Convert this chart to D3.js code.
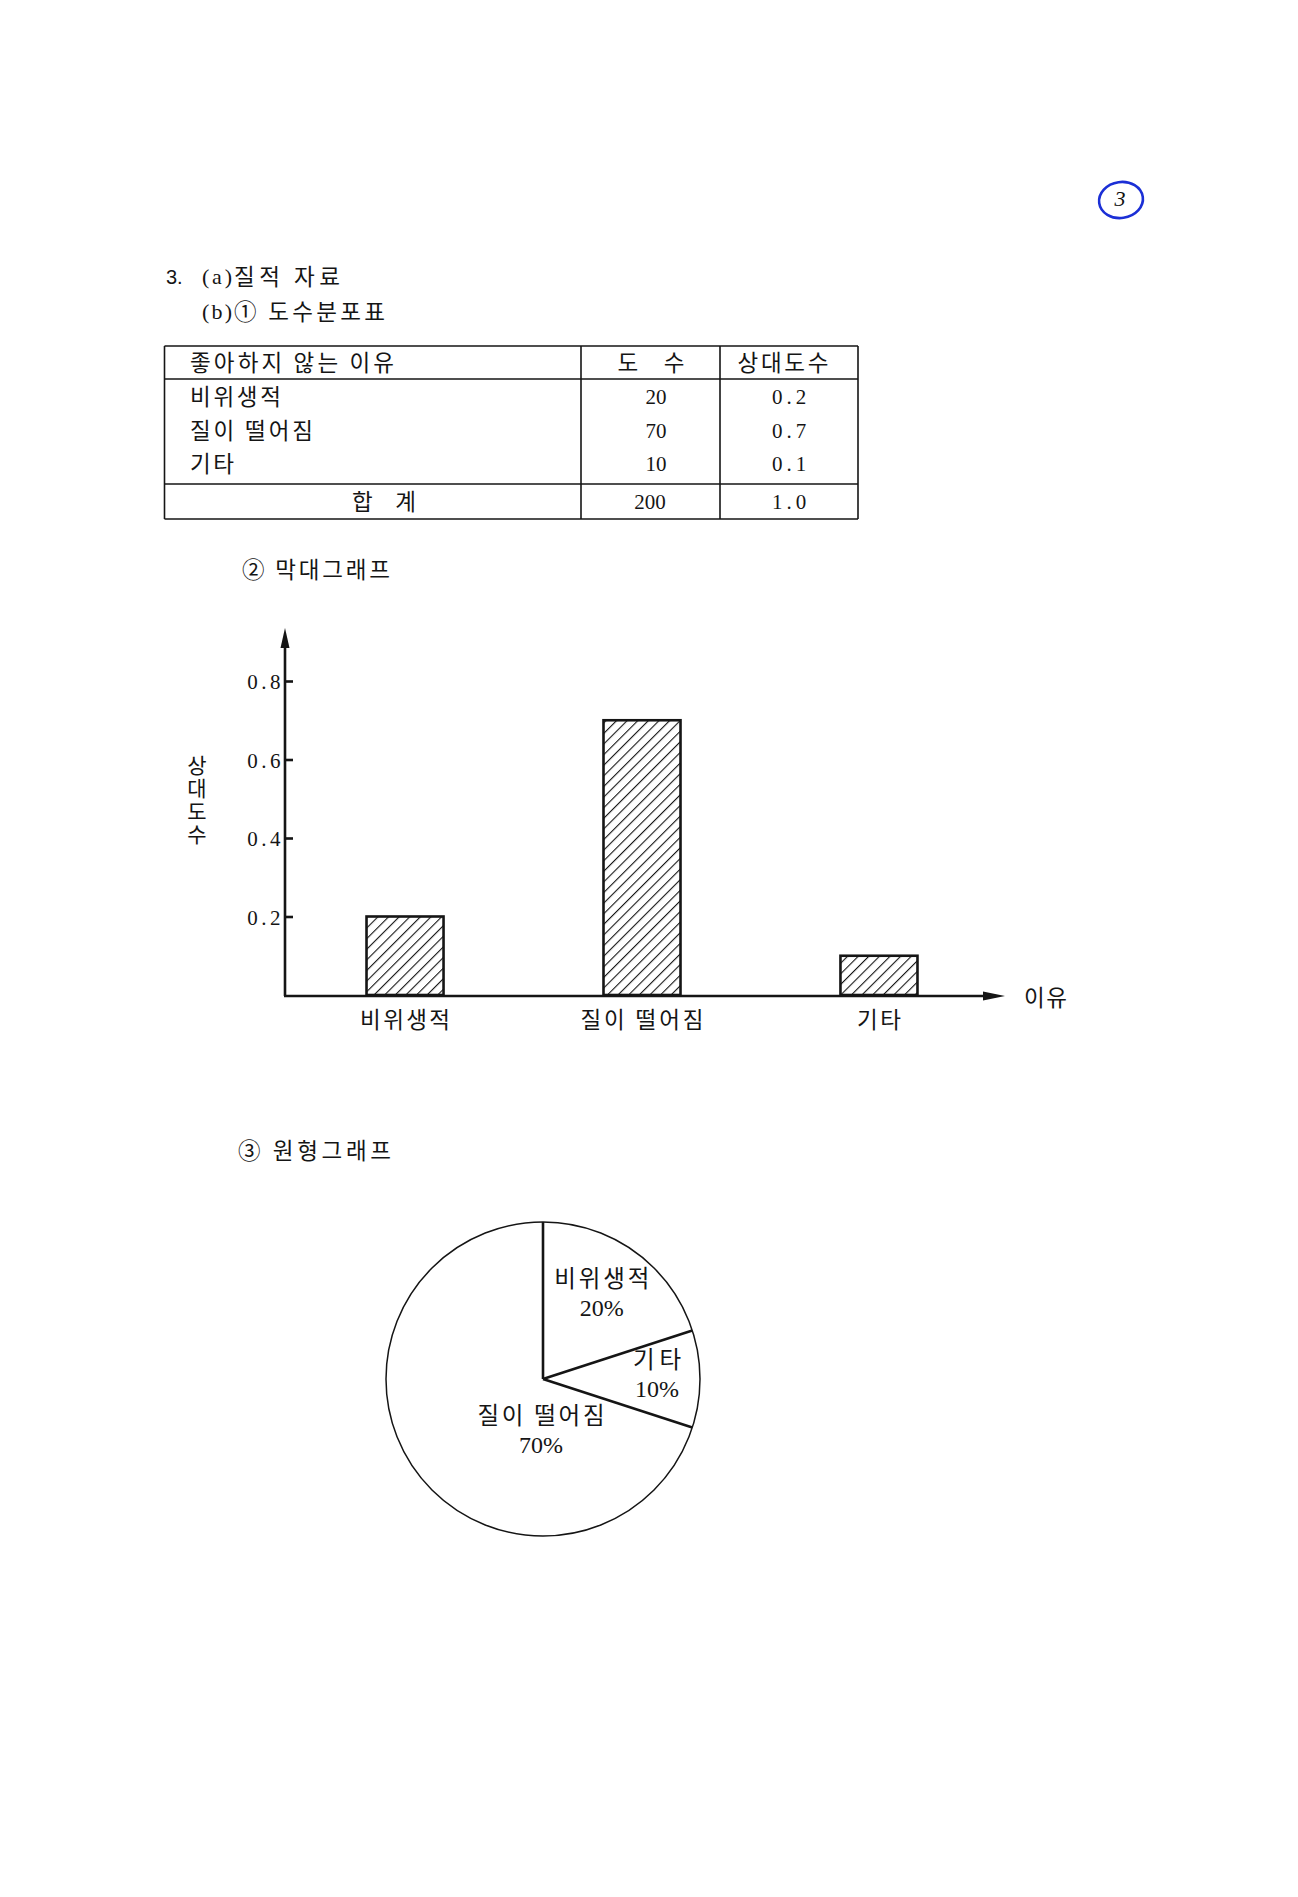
<!DOCTYPE html>
<html><head><meta charset="utf-8">
<script src="https://cdn.jsdelivr.net/npm/d3@7"></script>
<style>body{margin:0;background:#fff;} svg{display:block;}</style>
</head><body>
<svg id="c" width="1298" height="1897"></svg>
<script>
// ---- data ----
const categories = ["비위생적", "질이 떨어짐", "기타"];
const frequencies = [20, 70, 10];
const relativeFreq = [0.2, 0.7, 0.1];
const tableHeaders = ["좋아하지 않는 이유", "도   수", "상대도수"];
const totalLabel = "합    계";
const totalFrequency = 200;
const totalRelative = 1.0;
const yTickValues = [0.2, 0.4, 0.6, 0.8];
const yAxisTitle = "상대도수";
const xAxisTitle = "이유";
const pieCategories = ["비위생적", "기타", "질이 떨어짐"];
const piePercents = [20, 10, 70];

// ---- styles ----
const KR = "'Noto Sans CJK KR', 'Noto Sans', sans-serif";
const NUM = "'Liberation Serif', 'DejaVu Serif', serif";
const INK = "#151515";

const svg = d3.select("#c");
svg.append("rect").attr("width", 1298).attr("height", 1897).attr("fill", "#fff");

function txt(x, y, s, o = {}) {
  const t = svg.append("text").attr("x", x).attr("y", y)
    .attr("font-family", o.family || KR).attr("font-size", o.size || 22.5)
    .attr("fill", INK).attr("text-anchor", o.anchor || "start")
    .style("white-space", "pre").text(s);
  if (o.len) t.attr("textLength", o.len).attr("lengthAdjust", "spacing");
  if (o.ls) t.attr("letter-spacing", o.ls);
  if (o.style) t.attr("font-style", o.style);
  return t;
}

// ---- headings ----
txt(166, 284, "3.", { family: "'Liberation Sans', sans-serif", size: 20 });
txt(202, 284, "(a)", { family: NUM, size: 22, len: 30 });
txt(234, 285, "질적 자료", { len: 106 });
txt(202, 319, "(b)", { family: NUM, size: 22, len: 30 });
txt(234, 320, "① 도수분포표", { len: 151 });

// ---- table ----
const tx = [164.5, 581, 720, 858];
const ty = [346, 379, 484, 519];
const tg = svg.append("g").attr("stroke", INK).attr("stroke-width", 1.6);
ty.forEach(y => tg.append("line").attr("x1", tx[0]).attr("x2", tx[3]).attr("y1", y).attr("y2", y));
tx.forEach(x => tg.append("line").attr("x1", x).attr("x2", x).attr("y1", ty[0]).attr("y2", ty[3]));

const rowY = d3.scalePoint().domain(categories).range([396, 463]);
const colNumX = 656, colRelX = 789;
const rowLen = { "비위생적": 91, "질이 떨어짐": 123, "기타": 44 };

txt(190, 371, tableHeaders[0], { len: 204 });
txt(651, 371, tableHeaders[1], { anchor: "middle", len: 67 });
txt(783, 371, tableHeaders[2], { anchor: "middle", len: 91 });

categories.forEach((c, i) => {
  const y = rowY(c) + 9;
  txt(190, y, c, { len: rowLen[c] });
  txt(colNumX, y - 1, frequencies[i], { family: NUM, size: 21, anchor: "middle" });
  txt(colRelX + 2, y - 1, d3.format(".1f")(relativeFreq[i]), { family: NUM, size: 21, anchor: "middle", ls: 4 });
});
txt(384, 510, totalLabel, { anchor: "middle", len: 64 });
txt(650, 509, totalFrequency, { family: NUM, size: 21, anchor: "middle" });
txt(colRelX + 2, 509, d3.format(".1f")(totalRelative), { family: NUM, size: 21, anchor: "middle", ls: 4 });

// ---- bar chart ----
txt(242, 578, "② 막대그래프", { len: 148 });

const defs = svg.append("defs");
const pat = defs.append("pattern").attr("id", "hatch").attr("patternUnits", "userSpaceOnUse")
  .attr("width", 7.5).attr("height", 7.5).attr("patternTransform", "rotate(45)");
pat.append("rect").attr("width", 7.5).attr("height", 7.5).attr("fill", "#fff");
pat.append("line").attr("x1", 0).attr("y1", 0).attr("x2", 0).attr("y2", 7.5)
  .attr("stroke", INK).attr("stroke-width", 2.2);

const x = d3.scaleBand().domain(categories).range([285, 999]).paddingInner(0.675).paddingOuter(0.344);
const y = d3.scaleLinear().domain([0, 0.8]).range([995, 681]);
const axisX0 = 285;

const bars = svg.append("g");
categories.forEach((c, i) => {
  bars.append("rect").attr("x", x(c)).attr("y", y(relativeFreq[i]))
    .attr("width", x.bandwidth()).attr("height", y(0) - y(relativeFreq[i]))
    .attr("fill", "url(#hatch)").attr("stroke", INK).attr("stroke-width", 2.6);
});

// axes lines with arrows
svg.append("line").attr("x1", axisX0).attr("x2", axisX0).attr("y1", y(0) + 1).attr("y2", 640)
  .attr("stroke", INK).attr("stroke-width", 2.6);
svg.append("path").attr("d", `M${axisX0},628 L${axisX0 - 4.5},648 L${axisX0 + 4.5},648 Z`).attr("fill", INK);
svg.append("line").attr("x1", axisX0 - 1).attr("x2", 990).attr("y1", y(0) + 1).attr("y2", y(0) + 1)
  .attr("stroke", INK).attr("stroke-width", 2.6);
svg.append("path").attr("d", `M1005,${y(0) + 1} L983,${y(0) - 3.5} L983,${y(0) + 5.5} Z`).attr("fill", INK);

const yAxis = d3.axisLeft(y).tickValues(yTickValues).tickSizeInner(-8).tickSizeOuter(0).tickPadding(1)
  .tickFormat(d3.format(".1f"));
const ya = svg.append("g").attr("transform", `translate(${axisX0},0)`).call(yAxis);
ya.select(".domain").remove();
ya.selectAll(".tick line").attr("stroke", INK).attr("stroke-width", 2.6);
ya.selectAll(".tick text").attr("font-family", NUM).attr("font-size", 21).attr("letter-spacing", 3.5)
  .attr("fill", INK).attr("dy", "0.36em");

// y title (vertical, upright Hangul)
svg.append("text").attr("x", 197).attr("y", 801).attr("text-anchor", "middle")
  .attr("font-family", KR).attr("font-size", 21).attr("fill", INK)
  .attr("letter-spacing", 2).style("writing-mode", "vertical-rl").style("text-orientation", "upright")
  .text(yAxisTitle);
txt(1024, 1006, xAxisTitle, { len: 43 });

const barLen = { "비위생적": 90, "질이 떨어짐": 123, "기타": 44 };
categories.forEach(c => {
  txt(x(c) + x.bandwidth() / 2, 1028, c, { anchor: "middle", len: barLen[c] });
});

// ---- pie chart ----
txt(238, 1159, "③ 원형그래프", { len: 153 });

const cx = 543, cy = 1379, R = 157;
const pieData = pieCategories.map((c, i) => ({ c, v: piePercents[i] }));
const arcs = d3.pie().sort(null).value(d => d.v)(pieData);
const pg = svg.append("g").attr("transform", `translate(${cx},${cy})`);
const arcGen = d3.arc().innerRadius(0).outerRadius(R);
pg.selectAll("path.slice").data(arcs).join("path").attr("class", "slice")
  .attr("d", arcGen).attr("fill", "#fff").attr("stroke", "none");
pg.append("circle").attr("r", R).attr("fill", "none").attr("stroke", INK).attr("stroke-width", 1.5);
arcs.forEach(a => {
  pg.append("line").attr("x1", 0).attr("y1", 0)
    .attr("x2", R * Math.sin(a.startAngle)).attr("y2", -R * Math.cos(a.startAngle))
    .attr("stroke", INK).attr("stroke-width", 2.6);
});

const labelRadius = { "비위생적": 100, "기타": 114 };
const pieLen = { "비위생적": 95, "기타": 48, "질이 떨어짐": 127 };
arcs.forEach(a => {
  const mid = (a.startAngle + a.endAngle) / 2;
  let lx, ly;
  if (a.data.c === "질이 떨어짐") { lx = -2; ly = 56; }
  else {
    const r = labelRadius[a.data.c];
    lx = r * Math.sin(mid); ly = -r * Math.cos(mid);
  }
  pg.append("text").attr("x", lx).attr("y", ly - 11).attr("text-anchor", "middle")
    .attr("font-family", KR).attr("font-size", 23.5).attr("fill", INK)
    .attr("textLength", pieLen[a.data.c]).attr("lengthAdjust", "spacing")
    .style("white-space", "pre").text(a.data.c);
  pg.append("text").attr("x", lx).attr("y", ly + 18).attr("text-anchor", "middle")
    .attr("font-family", NUM).attr("font-size", 24).attr("fill", INK).text(a.data.v + "%");
});

// ---- circled page number ----
svg.append("ellipse").attr("cx", 1121).attr("cy", 200).attr("rx", 22).attr("ry", 18)
  .attr("fill", "none").attr("stroke", "#1b2fd6").attr("stroke-width", 2.6)
  .attr("transform", "rotate(-8,1121,200)");
svg.append("text").attr("x", 1120).attr("y", 206).attr("text-anchor", "middle").attr("font-family", NUM)
  .attr("font-style", "italic").attr("font-size", 22).attr("fill", "#111").text("3");
</script>
</body></html>
